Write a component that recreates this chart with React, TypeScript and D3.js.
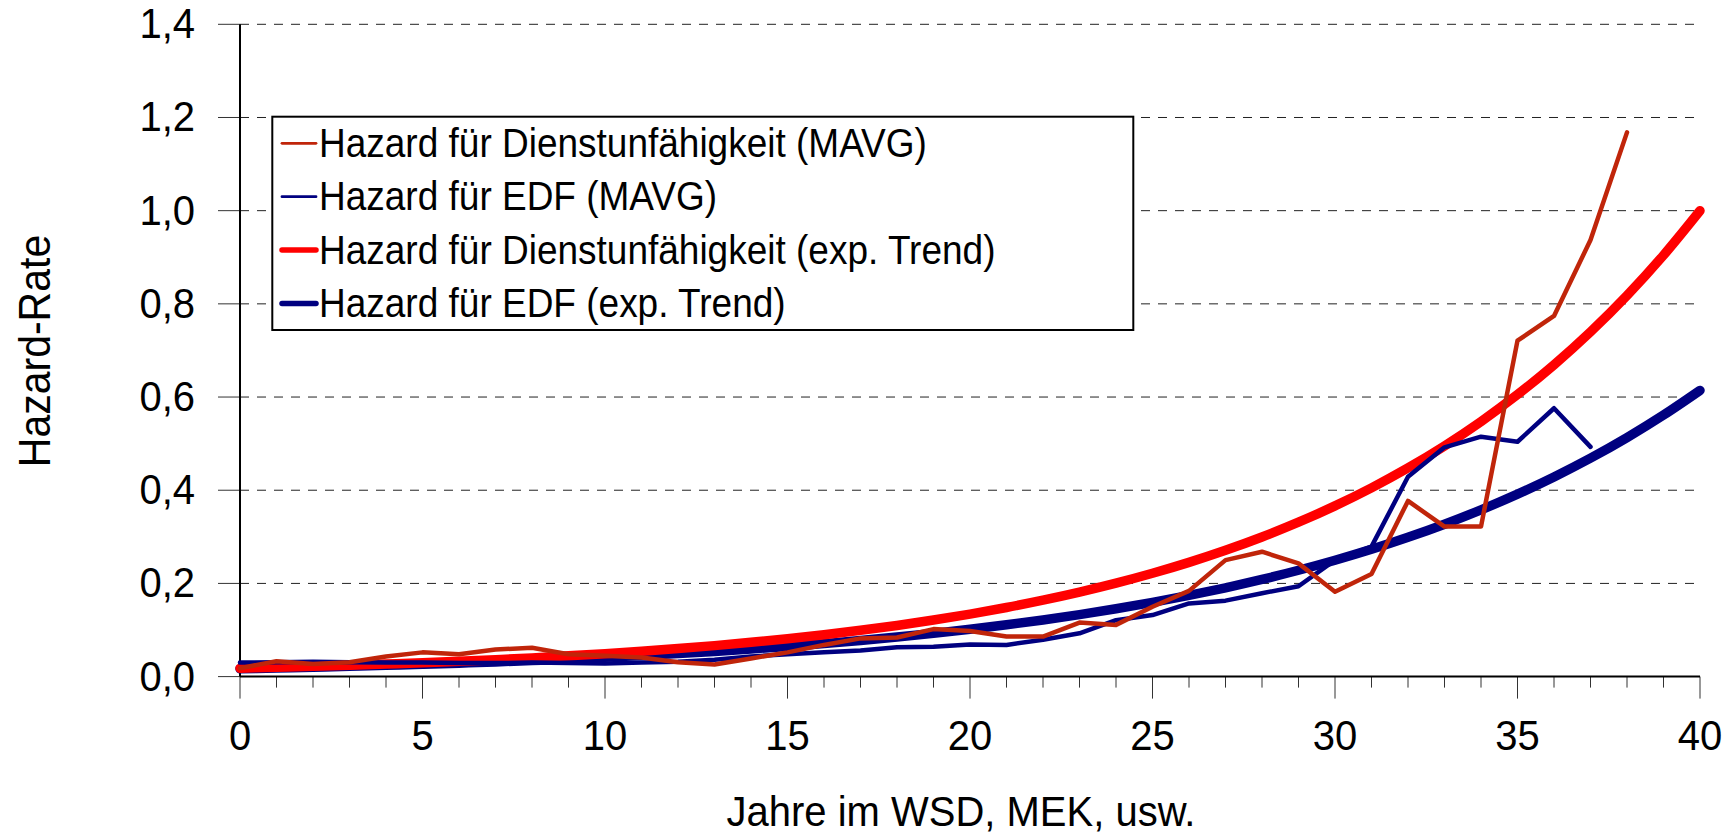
import React, { useEffect, useRef } from 'react';
import * as d3 from 'd3';

// Jahre 0..40
const years = d3.range(0, 41);

// Hazard für Dienstunfähigkeit (MAVG), Jahre 0..38
const redMavg = [
  0.018, 0.033, 0.027, 0.031, 0.043, 0.052, 0.048, 0.058, 0.062, 0.048,
  0.045, 0.041, 0.031, 0.026, 0.039, 0.052, 0.068, 0.082, 0.084, 0.102,
  0.098, 0.086, 0.086, 0.116, 0.111, 0.150, 0.184, 0.250, 0.268, 0.243,
  0.182, 0.220, 0.377, 0.322, 0.322, 0.721, 0.774, 0.937, 1.168,
];

// Hazard für EDF (MAVG), Jahre 0..37
const blueMavg = [
  0.030, 0.031, 0.032, 0.031, 0.030, 0.030, 0.029, 0.029, 0.030, 0.029,
  0.028, 0.030, 0.032, 0.036, 0.043, 0.048, 0.052, 0.056, 0.063, 0.064,
  0.069, 0.068, 0.079, 0.093, 0.121, 0.132, 0.157, 0.163, 0.179, 0.194,
  0.250, 0.279, 0.429, 0.492, 0.515, 0.504, 0.576, 0.493,
];

// Hazard für Dienstunfähigkeit (exp. Trend), Jahre 0..40
const redTrend = [
  0.0180, 0.0199, 0.0220, 0.0243, 0.0269, 0.0297, 0.0329, 0.0364, 0.0402, 0.0445,
  0.0492, 0.0544, 0.0601, 0.0665, 0.0735, 0.0812, 0.0898, 0.0993, 0.1098, 0.1214,
  0.1342, 0.1484, 0.1641, 0.1814, 0.2006, 0.2218, 0.2452, 0.2711, 0.2997, 0.3314,
  0.3664, 0.4051, 0.4478, 0.4951, 0.5474, 0.6052, 0.6691, 0.7398, 0.8179, 0.9043,
  0.9998,
];

// Hazard für EDF (exp. Trend), Jahre 0..40
const blueTrend = [
  0.0168, 0.0184, 0.0201, 0.0220, 0.0241, 0.0263, 0.0288, 0.0315, 0.0345, 0.0377,
  0.0413, 0.0452, 0.0494, 0.0541, 0.0592, 0.0647, 0.0708, 0.0775, 0.0848, 0.0928,
  0.1015, 0.1111, 0.1215, 0.1330, 0.1455, 0.1592, 0.1742, 0.1906, 0.2085, 0.2282,
  0.2497, 0.2732, 0.2989, 0.3271, 0.3579, 0.3916, 0.4285, 0.4688, 0.5130, 0.5613,
  0.6142,
];

const legendLabels = [
  'Hazard für Dienstunfähigkeit (MAVG)',
  'Hazard für EDF (MAVG)',
  'Hazard für Dienstunfähigkeit (exp. Trend)',
  'Hazard für EDF (exp. Trend)',
];

const yTicks = [0, 0.2, 0.4, 0.6, 0.8, 1.0, 1.2, 1.4];
const xTicks = [0, 5, 10, 15, 20, 25, 30, 35, 40];

const W = 1733;
const H = 834;
const FONT = 'Liberation Sans, Arial, Helvetica, sans-serif';
const STRETCH = 1.08; // the original text is a bit taller than wide

const App = () => {
  const ref = useRef<SVGSVGElement | null>(null);

  useEffect(() => {
    if (!ref.current) return;
    const svg = d3.select(ref.current);
    svg.selectAll('*').remove();

    const x = d3.scaleLinear().domain([0, 40]).range([240, 1700]);
    const y = d3.scaleLinear().domain([0, 1.4]).range([676.6, 24.3]);
    const comma = (v: number) => d3.format('.1f')(v).replace('.', ',');

    // gridlines
    svg.append('g')
      .selectAll('line')
      .data(yTicks.filter(d => d > 0))
      .join('line')
      .attr('x1', 240).attr('x2', 1700)
      .attr('y1', d => y(d)).attr('y2', d => y(d))
      .attr('stroke', '#222').attr('stroke-width', 1)
      .attr('stroke-dasharray', '9,8');

    // y ticks + labels
    const gy = svg.append('g');
    gy.selectAll('line')
      .data(yTicks)
      .join('line')
      .attr('x1', 218).attr('x2', 240)
      .attr('y1', d => y(d)).attr('y2', d => y(d))
      .attr('stroke', '#333').attr('stroke-width', 1);
    gy.selectAll('text')
      .data(yTicks)
      .join('text')
      .attr('transform', d => `translate(195,${y(d) + 14}) scale(1,${STRETCH})`)
      .attr('text-anchor', 'end')
      .attr('font-family', FONT).attr('font-size', 40)
      .text(d => comma(d));

    // x ticks
    const gx = svg.append('g');
    gx.selectAll('line')
      .data(years)
      .join('line')
      .attr('x1', d => x(d)).attr('x2', d => x(d))
      .attr('y1', y(0)).attr('y2', d => (d % 5 === 0 ? y(0) + 22 : y(0) + 11))
      .attr('stroke', '#333').attr('stroke-width', 1);
    gx.selectAll('text')
      .data(xTicks)
      .join('text')
      .attr('transform', d => `translate(${x(d)},750) scale(1,${STRETCH})`)
      .attr('text-anchor', 'middle')
      .attr('font-family', FONT).attr('font-size', 40)
      .text(d => String(d));

    // axis lines
    svg.append('line')
      .attr('x1', 240).attr('x2', 240).attr('y1', y(1.4)).attr('y2', y(0))
      .attr('stroke', '#000').attr('stroke-width', 2);
    svg.append('line')
      .attr('x1', 240).attr('x2', 1700).attr('y1', y(0)).attr('y2', y(0))
      .attr('stroke', '#000').attr('stroke-width', 2);

    // series
    const line = d3.line<number>()
      .x((_, i) => x(i))
      .y(d => y(d));
    const smooth = d3.line<number>()
      .x((_, i) => x(i))
      .y(d => y(d))
      .curve(d3.curveMonotoneX);

    const series = [
      { data: blueTrend, gen: smooth, color: '#000080', width: 9.5 },
      { data: redTrend, gen: smooth, color: '#ff0000', width: 9.5 },
      { data: blueMavg, gen: line, color: '#000080', width: 4.5 },
      { data: redMavg, gen: line, color: '#c0250a', width: 4.5 },
    ];
    series.forEach(s => {
      svg.append('path')
        .datum(s.data)
        .attr('fill', 'none')
        .attr('stroke', s.color)
        .attr('stroke-width', s.width)
        .attr('stroke-linejoin', 'round')
        .attr('stroke-linecap', 'round')
        .attr('d', s.gen);
    });

    // legend
    const lg = svg.append('g');
    lg.append('rect')
      .attr('x', 272.3).attr('y', 116.7)
      .attr('width', 861).attr('height', 213.3)
      .attr('fill', '#fff').attr('stroke', '#000').attr('stroke-width', 2);
    const legendStyles = [
      { color: '#c0250a', width: 2.8 },
      { color: '#000080', width: 2.8 },
      { color: '#ff0000', width: 5.5 },
      { color: '#000080', width: 5.5 },
    ];
    legendLabels.forEach((label, i) => {
      const cy = 143.3 + i * 53.4;
      lg.append('line')
        .attr('x1', 282).attr('x2', 316).attr('y1', cy).attr('y2', cy)
        .attr('stroke', legendStyles[i].color)
        .attr('stroke-width', legendStyles[i].width)
        .attr('stroke-linecap', 'round');
      lg.append('text')
        .attr('transform', `translate(319,${cy + 13.4}) scale(1,${STRETCH})`)
        .attr('font-family', FONT).attr('font-size', 37)
        .text(label);
    });

    // axis titles
    svg.append('text')
      .attr('transform', `translate(961,826) scale(1,${STRETCH})`)
      .attr('text-anchor', 'middle')
      .attr('font-family', FONT).attr('font-size', 40)
      .text('Jahre im WSD, MEK, usw.');
    svg.append('text')
      .attr('transform', `translate(50,351) rotate(-90) scale(1,${STRETCH})`)
      .attr('text-anchor', 'middle')
      .attr('font-family', FONT).attr('font-size', 41)
      .text('Hazard-Rate');
  }, []);

  return (
    <div style={{ position: 'absolute', left: 0, top: 0 }}>
      <svg ref={ref} width={W} height={H} style={{ display: 'block', background: '#fff' }} />
    </div>
  );
};

export default App;
